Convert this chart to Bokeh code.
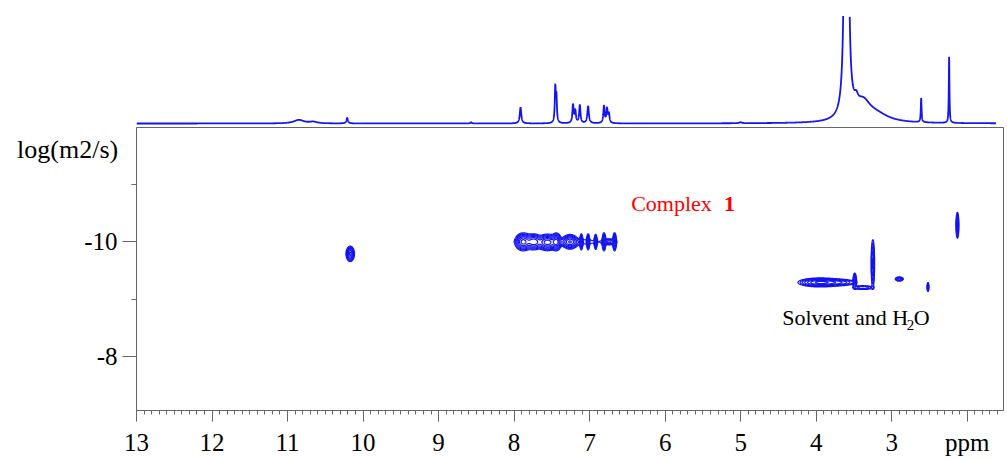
import numpy as np
from bokeh.plotting import figure
from bokeh.layouts import column
from bokeh.models import Range1d, FixedTicker, Label
from bokeh.embed import file_html
from bokeh.resources import INLINE

# ---------------- data ----------------
# 1D projection: peak list (ppm, height in px-like units, half-width ppm)
peak_ppm = [10.85, 10.66, 10.21, 8.57, 7.915, 7.455, 7.44, 7.22, 7.19, 7.13, 7.02,
            6.81, 6.77, 6.745, 5.00, 3.60, 3.47, 3.38, 3.20, 2.61, 2.24]
peak_height = [3.5, 1.5, 5.5, 1.2, 16, 34, 24, 18, 12, 18, 17,
               17, 14, 9, 1.0, 12000, 8, 18, 7, 24, 66]
peak_hwhm = [0.08, 0.06, 0.012, 0.01, 0.012, 0.008, 0.008, 0.01, 0.01, 0.01, 0.012,
             0.01, 0.01, 0.01, 0.02, 0.004, 0.03, 0.12, 0.2, 0.006, 0.005]

# 2D DOSY spots: ppm, logD, sx (ppm), sy (logD), amplitude
spot_ppm = [7.88, 7.74, 7.56, 7.44, 7.26, 7.11, 7.02, 6.92, 6.81, 6.67, 6.74, 7.30,
            3.95, 3.70, 3.49, 3.38, 3.25, 2.90, 2.52, 2.13, 10.17]
spot_logd = [-10.0, -10.0, -9.99, -10.0, -10.0, -10.0, -10.0, -10.0, -10.0, -10.0, -10.0, -10.0,
             -9.29, -9.29, -9.32, -9.20, -9.62, -9.35, -9.21, -10.29, -9.79]
spot_sx = [0.05, 0.05, 0.06, 0.03, 0.05, 0.01, 0.01, 0.01, 0.012, 0.012, 0.05, 0.35,
           0.13, 0.12, 0.012, 0.08, 0.012, 0.03, 0.008, 0.01, 0.025]
spot_sy = [0.07, 0.065, 0.065, 0.07, 0.06, 0.07, 0.07, 0.07, 0.08, 0.08, 0.03, 0.04,
           0.035, 0.03, 0.07, 0.02, 0.22, 0.02, 0.05, 0.12, 0.06]
spot_amp = [1.0, 0.8, 1.0, 0.9, 0.8, 0.6, 0.6, 0.5, 0.6, 0.6, 0.3, 0.15,
            1.0, 0.4, 0.5, 0.3, 0.5, 0.4, 0.3, 0.5, 1.0]
contour_levels = [0.08, 0.13, 0.2, 0.3, 0.45, 0.65, 0.9]

x_ticks = [2, 3, 4, 5, 6, 7, 8, 9, 10, 11, 12, 13]
x_tick_labels = {2: "ppm", 3: "3", 4: "4", 5: "5", 6: "6", 7: "7", 8: "8", 9: "9",
                 10: "10", 11: "11", 12: "12", 13: "13"}
y_ticks = [-10, -8]
y_minor = [-11, -9]
y_tick_labels = {-10: "-10", -8: "-8"}
y_title = "log(m2/s)"

BLUE = "#1414f0"
GRAY = "#666666"
FONT = "Liberation Serif"

# ---------------- 1D spectrum ----------------
xs1 = np.round(np.arange(13.0, 1.619, -0.001), 4)
ys1 = np.zeros_like(xs1)
for c, h, w in zip(peak_ppm, peak_height, peak_hwhm):
    ys1 += h * w * w / (w * w + (xs1 - c) ** 2)
ys1 = np.where(ys1 > 108, np.nan, ys1)

x_range = Range1d(13.0, 1.52)

top = figure(frame_width=867, frame_height=127, x_range=x_range, y_range=Range1d(-4, 123),
             output_backend="svg", toolbar_location=None,
             x_axis_location=None, y_axis_location=None,
             min_border_left=136, min_border_right=4, min_border_top=0, min_border_bottom=0)
top.outline_line_color = None
top.xgrid.visible = False
top.ygrid.visible = False
top.line(xs1, ys1, line_color=BLUE, line_width=1.8)

# ---------------- 2D DOSY ----------------
gx = np.arange(1.52, 13.0001, 0.005)
gy = np.arange(-12.0, -7.04, 0.008)
X, Y = np.meshgrid(gx, gy)
Z = np.zeros_like(X)
for c, d, sx, sy, a in zip(spot_ppm, spot_logd, spot_sx, spot_sy, spot_amp):
    Z += a * np.exp(-0.5 * ((X - c) / sx) ** 2 - 0.5 * ((Y - d) / sy) ** 2)

p = figure(frame_width=867, frame_height=283, x_range=x_range, y_range=Range1d(-7.05, -12.0),
           output_backend="svg", toolbar_location=None,
           min_border_left=136, min_border_right=4, min_border_top=0, min_border_bottom=0)
p.xgrid.visible = False
p.ygrid.visible = False
p.outline_line_color = GRAY
p.outline_line_width = 1

p.contour(gx, gy, Z, contour_levels, line_color=BLUE, line_width=1.2)

for ax in (p.xaxis[0], p.yaxis[0]):
    ax.axis_line_color = GRAY
    ax.major_tick_line_color = GRAY
    ax.minor_tick_line_color = GRAY
    ax.major_label_text_font = FONT
    ax.major_label_text_font_size = "25px"
    ax.major_label_text_color = "black"
    ax.major_tick_in = 0
    ax.minor_tick_in = 0

p.xaxis.ticker = FixedTicker(ticks=x_ticks,
                             minor_ticks=np.round(np.arange(1.6, 13.001, 0.1), 2).tolist())
p.xaxis.major_label_overrides = x_tick_labels
p.xaxis.major_tick_out = 11
p.xaxis.minor_tick_out = 4
p.xaxis.major_label_standoff = 7

p.yaxis.ticker = FixedTicker(ticks=y_ticks, minor_ticks=y_minor)
p.yaxis.major_label_overrides = y_tick_labels
p.yaxis.major_tick_out = 14
p.yaxis.minor_tick_out = 5
p.yaxis.major_label_standoff = 5
# the title sits just below the top edge of the frame: an empty first line pushes it down
p.yaxis.axis_label = "\n" + y_title
p.yaxis.axis_label_orientation = "horizontal"
p.yaxis.axis_label_text_font = FONT
p.yaxis.axis_label_text_font_size = "26px"
p.yaxis.axis_label_text_font_style = "normal"
p.yaxis.axis_label_text_color = "black"
p.yaxis.axis_label_text_line_height = 1.5
p.yaxis.axis_label_standoff = -37
p.yaxis.axis_label_align = "start"

p.add_layout(Label(x=6.45, y=-10.67, text="Complex", text_align="left",
                   text_baseline="alphabetic", text_font=FONT, text_font_size="22px",
                   text_color="red"))
p.add_layout(Label(x=5.22, y=-10.67, text="1", text_align="left",
                   text_baseline="alphabetic", text_font=FONT, text_font_size="22px",
                   text_font_style="bold", text_color="red"))
p.add_layout(Label(x=4.45, y=-8.67, text="Solvent and H", text_align="left",
                   text_baseline="alphabetic", text_font=FONT, text_font_size="22px",
                   text_color="black"))
p.add_layout(Label(x=2.80, y=-8.54, text="2", text_align="left",
                   text_baseline="alphabetic", text_font=FONT, text_font_size="15px",
                   text_color="black"))
p.add_layout(Label(x=2.71, y=-8.67, text="O", text_align="left",
                   text_baseline="alphabetic", text_font=FONT, text_font_size="22px",
                   text_color="black"))

layout = column(top, p)
open("out.html", "w").write(file_html(layout, INLINE))
